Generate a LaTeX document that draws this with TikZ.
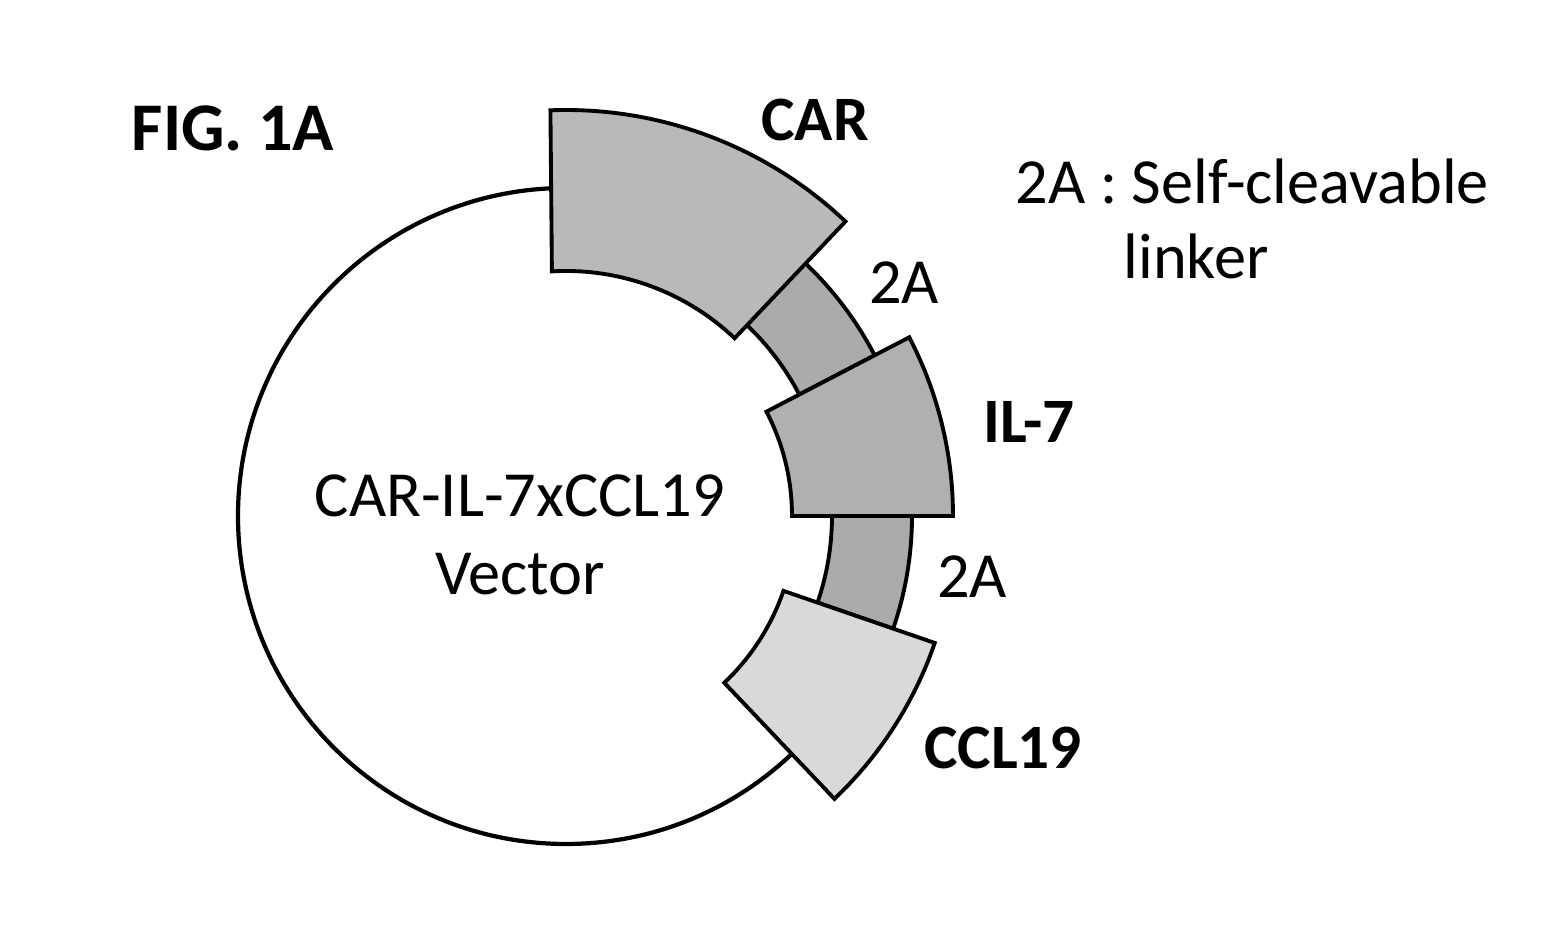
\documentclass[tikz,border=0pt]{standalone}
\usepackage{fontspec}
\setmainfont{Carlito}
\usetikzlibrary{positioning}

\begin{document}
\begin{tikzpicture}[
  seg/.style={draw=black, line width=1.1pt, line join=miter},
  gene/.style={font=\fontsize{18}{20}\selectfont\bfseries},
  lbl/.style={font=\fontsize{18.3}{22}\selectfont},
  link/.style={seg, fill=gray!66},
]
\useasboundingbox (0,0) rectangle (15.64,9.28);
\coordinate (c) at (5.66,4.12);

% vector backbone
\draw[line width=1.2pt] (c) circle[radius=3.28];

% 2A linkers
\draw[link, shift={(c)}] (47:3.48) arc[start angle=47, end angle=27.5, radius=3.48]
  -- (27.5:2.63) arc[start angle=27.5, end angle=47, radius=2.63] -- cycle;
\draw[link, shift={(c)}] (0:3.46) arc[start angle=0, end angle=-19, radius=3.46]
  -- (-19:2.66) arc[start angle=-19, end angle=0, radius=2.66] -- cycle;

% genes
\draw[seg, fill=gray!55, shift={(c)}] (92.2:4.06) arc[start angle=92.2, end angle=46.5, radius=4.06]
  -- (46.5:2.45) arc[start angle=46.5, end angle=93.3, radius=2.45] -- cycle;
\draw[seg, fill=gray!62, shift={(c)}] (27.5:3.87) arc[start angle=27.5, end angle=0, radius=3.87]
  -- (0:2.26) arc[start angle=0, end angle=27.5, radius=2.26] -- cycle;
\draw[seg, fill=gray!30, shift={(c)}] (-19:3.90) arc[start angle=-19, end angle=-46.5, radius=3.90]
  -- (-46.5:2.30) arc[start angle=-46.5, end angle=-19, radius=2.30] -- cycle;

% labels
\node[font=\fontsize{19.4}{23}\selectfont\bfseries] (fig) at (2.33,8.0) {FIG. 1A};
\node[gene] (car) at (8.15,8.08) {CAR};
\node[gene] (il7) at (10.29,5.06) {IL-7};
\node[gene] (ccl) at (10.03,1.80) {CCL19};
\node[lbl] (twoa1) at (9.04,6.45) {2A};
\node[lbl] (twoa2) at (9.72,3.51) {2A};
\node[lbl, align=center] (vec) at (5.2,3.93) {CAR-IL-7xCCL19\\Vector};
\node[lbl, anchor=base west, inner sep=0pt] (key) at (10.15,7.24) {2A : Self-cleavable};
\node[lbl, anchor=base west, inner sep=0pt] (keytxt) at (11.23,6.49) {linker};
\end{tikzpicture}
\end{document}
